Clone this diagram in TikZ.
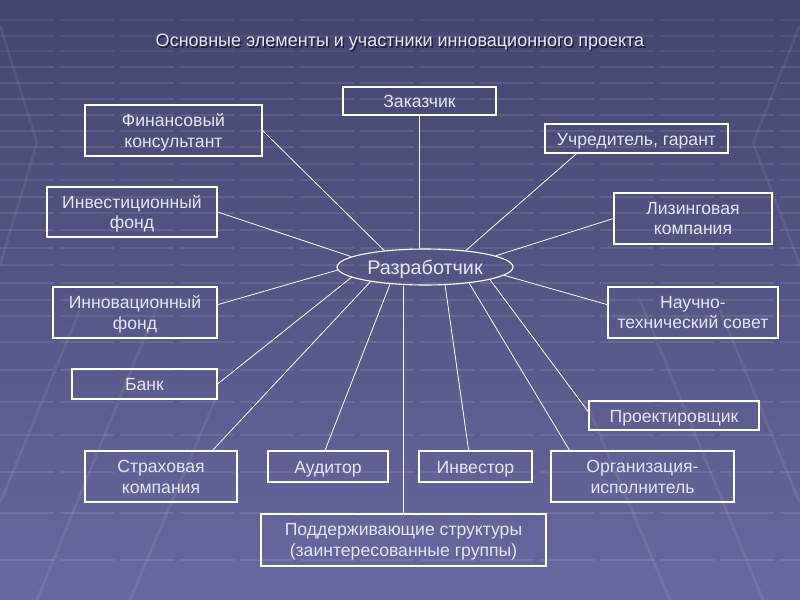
\documentclass[tikz,border=0pt]{standalone}
\usepackage{fontspec}
\setmainfont{Liberation Sans}
\usetikzlibrary{shapes.geometric,calc}
\definecolor{bgtop}{RGB}{68,69,110}
\definecolor{bgbot}{RGB}{104,104,160}
\definecolor{txt}{RGB}{230,230,246}
\definecolor{shadowc}{RGB}{30,30,55}
\begin{document}
\begin{tikzpicture}[x=0.5pt,y=-0.5pt,
  box/.style={draw=white, line width=0.55pt, text=txt, align=center, inner sep=0pt,
              text depth=0pt, font=\fontsize{8.8}{10.4}\selectfont},
  one/.style={text height=6.5pt},
  conn/.style={draw=white, line width=0.4pt},
  stripe/.style={draw=white, opacity=0.09, line width=1.4pt, dash pattern=on 27pt off 3pt},
  diag/.style={draw=white, opacity=0.07, line width=1.4pt}]
\useasboundingbox (0,0) rectangle (800,600);
\fill[top color=bgtop, bottom color=bgbot] (0,0) rectangle (800,600);
% background grid
\foreach \y in {67,83,99,115,131,147,164,180,197,213,230,248,265,283,300,316,342,370,402,435,472,513,560}
  \draw[stripe] (0,\y) -- (800,\y);
\foreach \y in {20,36,51}
  \draw[stripe, opacity=0.05] (0,\y) -- (800,\y);
\draw[diag] (0,25) -- (37,143) -- (0,265);
\draw[diag] (800,25) -- (753,143) -- (800,265);
\draw[diag] (0,503) -- (80,310);
\draw[diag] (37,600) -- (160,300);
\draw[diag] (130,600) -- (215,400);
\draw[diag] (800,503) -- (720,310);
\draw[diag] (763,600) -- (640,300);
\draw[diag] (670,600) -- (585,400);
% title
\node[text=shadowc, font=\fontsize{9}{11}\selectfont] (titleshadow) at (401.5,44)
  {Основные элементы и участники инновационного проекта};
\node[text=txt, font=\fontsize{9}{11}\selectfont] (title) at (400,42.5)
  {Основные элементы и участники инновационного проекта};
% nodes
\node[box, one, minimum width=76.5pt, minimum height=14pt] (zak) at (419.5,101) {Заказчик};
\node[box, minimum width=88.5pt, minimum height=25.5pt] (fin) at (173.5,130.5) {Финансовый\\консультант};
\node[box, one, minimum width=91.5pt, minimum height=14.5pt] (uch) at (636.5,138.5) {Учредитель, гарант};
\node[box, minimum width=85pt, minimum height=25pt] (invf) at (132,212) {Инвестиционный\\фонд};
\node[box, minimum width=79pt, minimum height=25.5pt] (lis) at (693,218.5) {Лизинговая\\компания};
\node[box, minimum width=82pt, minimum height=25.5pt] (innf) at (135,312.5) {Инновационный\\фонд};
\node[box, minimum width=85pt, minimum height=25.5pt] (nts) at (693,312.5) {Научно-\\технический совет};
\node[box, one, minimum width=72.5pt, minimum height=15pt] (bank) at (144.5,384) {Банк};
\node[box, one, minimum width=85pt, minimum height=14.5pt] (proj) at (674,415.5) {Проектировщик};
\node[box, minimum width=76pt, minimum height=25.5pt] (strah) at (161,476.5) {Страховая\\компания};
\node[box, one, minimum width=60pt, minimum height=15.5pt] (aud) at (328,466.5) {Аудитор};
\node[box, one, minimum width=56.5pt, minimum height=15.5pt] (invr) at (475.5,466.5) {Инвестор};
\node[box, minimum width=91.5pt, minimum height=25.5pt] (org) at (642.5,476.5) {Организация-\\исполнитель};
\node[box, minimum width=142.5pt, minimum height=26pt] (pod) at (403.5,540) {Поддерживающие структуры\\(заинтересованные группы)};
\node[ellipse, draw=white, line width=0.55pt, text=txt, inner sep=0pt, text height=7.1pt, text depth=0pt,
      minimum width=88pt, minimum height=18pt, font=\fontsize{9.9}{12}\selectfont] (dev) at (425,267) {Разработчик};
% connectors
\draw[conn] (zak.south) -- (zak.south |- dev.north);
\draw[conn] (fin.east) -- (dev.158);
\draw[conn] ($(uch.south west)!0.175!(uch.south east)$) -- (dev.22);
\draw[conn] (invf.east) -- (dev.172);
\draw[conn] (lis.west) -- (dev.9);
\draw[conn] ($(innf.north east)!0.35!(innf.south east)$) -- (dev.182);
\draw[conn] ($(nts.north west)!0.35!(nts.south west)$) -- (dev.-6);
\draw[conn] (bank.east) -- (dev.188);
\draw[conn] ($(proj.north west)!0.38!(proj.south west)$) -- (dev.-11);
\draw[conn] ($(strah.north west)!0.836!(strah.north east)$) -- (dev.195);
\draw[conn] ($(aud.north west)!0.475!(aud.north east)$) -- (dev.206);
\draw[conn] (pod.north) -- (pod.north |- dev.south);
\draw[conn] ($(invr.north west)!0.44!(invr.north east)$) -- (dev.-42);
\draw[conn] ($(org.north west)!0.104!(org.north east)$) -- (dev.-20);
\end{tikzpicture}
\end{document}
